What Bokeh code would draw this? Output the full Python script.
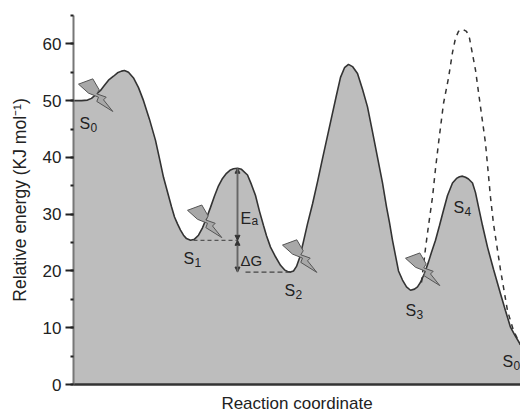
from bokeh.plotting import figure
from bokeh.models import Range1d, SingleIntervalTicker, FixedTicker, Arrow, NormalHead
from bokeh.core.properties import value
from bokeh.embed import file_html
from bokeh.resources import INLINE

FONT = "Liberation Sans"
curve_x = [0, 8, 14, 18, 22, 27, 31, 35, 40, 44, 48, 51, 55, 60, 65, 70, 76, 82, 86, 90, 94, 98, 101, 104, 107, 110, 113, 117, 121, 125, 129, 133, 137, 141, 145, 149, 153, 157, 160, 164, 168, 174, 178, 182, 186, 190, 193, 197, 202, 207, 211, 214, 217, 220, 223, 226, 230, 234, 239, 244, 249, 254, 259, 263, 267, 271, 275, 279, 284, 289, 294, 299, 304, 309, 313, 316, 319, 322, 325, 329, 333, 337, 341, 344, 347, 351, 355, 358, 362, 366, 370, 374, 379, 383, 386, 389, 392, 395, 399, 402, 405, 409, 414, 420, 427, 432, 437, 441, 447]
curve_y = [50, 50, 50.1, 50.4, 51, 51.8, 52.7, 53.6, 54.3, 54.9, 55.2, 55.3, 55, 54, 52.3, 50, 46.7, 43, 39.8, 36.5, 33.9, 31.3, 29.5, 28.3, 27.2, 26.3, 25.7, 25.4, 25.6, 26.3, 27.6, 29.3, 31.2, 33.2, 35, 36.3, 37.2, 37.8, 38, 38.1, 37.9, 36.9, 35.2, 33.3, 30.5, 28, 26.2, 24.2, 22.5, 21, 20.2, 19.9, 19.8, 20, 20.8, 22.3, 25.2, 28.3, 31.8, 35.7, 39.8, 43.8, 47.8, 51, 54.1, 55.8, 56.4, 56, 54.8, 52, 48.9, 44.5, 40, 35.5, 31.3, 28.5, 25.4, 22.7, 20, 18.4, 17.2, 16.6, 16.8, 17.2, 18, 19.6, 21.6, 23.3, 25.4, 28, 30.7, 33.3, 35.5, 36.3, 36.6, 36.7, 36.5, 36.2, 35.5, 33.8, 31.3, 28, 24.2, 20.3, 16, 13, 10.1, 8.8, 7]
dash_x = [348, 352, 355, 359, 362, 365, 370, 375, 379, 382, 385, 389, 393, 396, 402, 407, 412, 417, 420, 427, 434, 440, 447]
dash_y = [18, 24, 28, 33, 38, 42.5, 49.5, 54, 58.5, 61, 62.2, 62.6, 62.2, 61, 55.4, 48.9, 42.5, 33, 28.3, 20.2, 13, 9.5, 7]
state_names = ["S", "S", "S", "S", "S", "S"]
state_subs = ["0", "1", "2", "3", "4", "0"]
state_x = [0, 117, 217, 337, 389, 447]
state_y = [50, 25.4, 19.8, 16.6, 36.7, 7]
state_dx = [6, -7, -6, -5, -9, -18]
state_dy = [-22.5, -18, -18, -20, -31, -17]
barrier_x = 164
barrier_y = 38.1
y_ticks_interval = 10
bolt_states = [0, 1, 2, 3]
bolt_anchor_dx = [5, -3, -8, -5]
bolt_anchor_dy = [16.5, 30, 27, 32]
bolt_dx = [0, 14.3, 20.7, 18.3, 27.7, 25, 34.3, 18.3, 20, 10]
bolt_dy = [0, 5.3, -5.7, -9.7, -13, -15.7, -27.3, -17.3, -13, -9]

PX = 369 / 65

p = figure(frame_width=447, frame_height=369, output_backend="svg", toolbar_location=None,
           x_range=Range1d(0, 447), y_range=Range1d(0, 65),
           min_border_left=73, min_border_right=0, min_border_top=15, min_border_bottom=30,
           background_fill_color="white", border_fill_color="white")
p.grid.visible = False
p.outline_line_color = None

p.varea(curve_x, [0] * len(curve_x), curve_y, fill_color="#bdbdbd")
p.line(dash_x, dash_y, line_color="#333333", line_width=1.5, line_dash="5 5")
p.line(curve_x, curve_y, line_color="#333333", line_width=1.6)

# dashed level guides
p.line([state_x[1] + 3, barrier_x], [state_y[1]] * 2, line_color="#555555", line_width=1.2, line_dash="4 3")
p.line([barrier_x + 8, state_x[2]], [state_y[2]] * 2, line_color="#444444", line_width=1.2, line_dash="5 3")

# Ea and dG arrows
for start, end in [(state_y[1], barrier_y), (barrier_y, state_y[1]), (state_y[1], state_y[2]), (state_y[2], state_y[1])]:
    p.add_layout(Arrow(end=NormalHead(size=5, fill_color="#333333", line_color="#333333"),
                       x_start=barrier_x, x_end=barrier_x, y_start=start, y_end=end,
                       line_color="#666666", line_width=1.5))

# lightning bolts
bx = []
by = []
for s, adx, ady in zip(bolt_states, bolt_anchor_dx, bolt_anchor_dy):
    ax = state_x[s] + adx
    ay = state_y[s] + ady / PX
    bx.append([ax + d for d in bolt_dx])
    by.append([ay + d / PX for d in bolt_dy])
p.patches(bx, by, fill_color="#a8a8a8", line_color="#555555", line_width=1)

# state labels
p.text(state_x, state_y, text=state_names, x_offset=state_dx, y_offset=[-d for d in state_dy],
       text_font=value(FONT), text_font_size="16px", text_color="#222222", text_baseline="alphabetic")
p.text(state_x, state_y, text=state_subs, x_offset=[d + 11 for d in state_dx],
       y_offset=[-d + 4 for d in state_dy],
       text_font=value(FONT), text_font_size="12px", text_color="#222222", text_baseline="alphabetic")
p.text([barrier_x + 3], [barrier_y], text=["E"], y_offset=[50],
       text_font=value(FONT), text_font_size="16px", text_color="#222222", text_baseline="alphabetic")
p.text([barrier_x + 14], [barrier_y], text=["a"], y_offset=[53],
       text_font=value(FONT), text_font_size="12px", text_color="#222222", text_baseline="alphabetic")
p.text([barrier_x + 3], [state_y[1]], text=["\u0394G"], y_offset=[20],
       text_font=value(FONT), text_font_size="15px", text_color="#222222", text_baseline="alphabetic")

ya = p.yaxis[0]
ya.ticker = SingleIntervalTicker(interval=y_ticks_interval, num_minor_ticks=2)
ya.axis_label = "Relative energy (KJ mol\u207b\u00b9)"
ya.axis_label_text_font = FONT
ya.axis_label_text_font_style = "normal"
ya.axis_label_text_font_size = "17.5px"
ya.axis_label_text_color = "#222222"
ya.axis_label_standoff = 10
ya.major_label_text_font = FONT
ya.major_label_text_font_size = "17px"
ya.major_label_text_color = "#222222"
ya.major_label_standoff = 4
ya.axis_line_color = "#777777"
ya.axis_line_width = 2
ya.major_tick_line_color = "#222222"
ya.major_tick_line_width = 2
ya.major_tick_in = 0
ya.major_tick_out = 8
ya.minor_tick_line_color = "#222222"
ya.minor_tick_line_width = 2
ya.minor_tick_in = 0
ya.minor_tick_out = 3

xa = p.xaxis[0]
xa.ticker = FixedTicker(ticks=[])
xa.axis_label = "Reaction coordinate"
xa.axis_label_text_font = FONT
xa.axis_label_text_font_style = "normal"
xa.axis_label_text_font_size = "17px"
xa.axis_label_text_color = "#222222"
xa.axis_label_standoff = 9
xa.major_tick_line_color = None
xa.minor_tick_line_color = None
xa.axis_line_color = "#333333"
xa.axis_line_width = 2.5

open("out.html", "w").write(file_html(p, INLINE))
